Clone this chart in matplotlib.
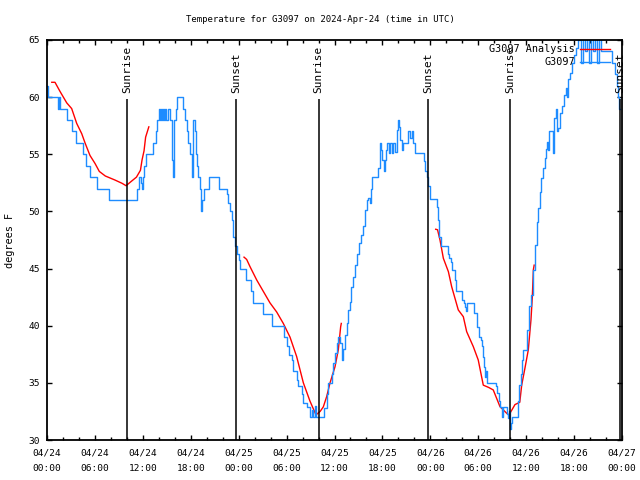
import numpy as np
import matplotlib
matplotlib.use("Agg")
import matplotlib.pyplot as plt
from matplotlib.ticker import MultipleLocator

plt.rcParams['font.family'] = ['DejaVu Sans Mono']

# hours since 04/24 00:00 UTC
obs_hours = [0, 0.125, 1.38, 1.5, 1.63, 2.47, 3.13, 3.63, 4.51, 4.88, 5.38, 6.26, 7.76,
             11.27, 11.52, 11.77, 11.9, 12.02, 12.15, 12.4, 13.27, 13.65, 13.77, 14.02,
             14.15, 14.28, 14.4, 14.53, 14.65, 14.78, 14.9, 15.15, 15.4, 15.59, 15.72,
             15.9, 16.15, 16.34, 17.09, 17.28, 17.53, 17.66, 17.91, 18.1, 18.28, 18.47,
             18.66, 18.78, 18.91, 19.1, 19.28, 19.41, 19.66, 20.29, 21.5, 22.5, 22.7,
             22.92, 23.13, 23.25, 23.33, 23.54, 23.83, 24.0, 24.17, 24.92, 25.55, 25.8,
             27.05, 28.17, 29.68, 30.05, 30.3, 30.68, 30.8, 31.3, 31.43, 31.93, 32.06,
             32.56, 32.93, 33.18, 33.31, 33.56, 33.68, 34.69, 35.06, 35.19, 35.69, 35.81,
             36.06, 36.31, 36.44, 36.69, 36.94, 37.07, 37.32, 37.57, 37.69, 37.94, 38.07,
             38.32, 38.57, 38.82, 39.07, 39.32, 39.57, 39.82, 40.07, 40.19, 40.44, 40.57,
             40.7, 41.45, 41.7, 41.83, 41.95, 42.2, 42.33, 42.45, 42.58, 42.83, 42.95,
             43.2, 43.33, 43.58, 43.83, 43.95, 44.08, 44.2, 44.45, 44.58, 45.2, 45.45,
             45.7, 45.83, 46.08, 47.2, 47.33, 47.58, 47.7, 47.96, 48.83, 48.96, 49.09,
             49.34, 50.21, 50.34, 50.59, 50.71, 51.09, 51.21, 51.96, 52.21, 52.34, 52.46,
             52.59, 53.46, 53.84, 54.09, 54.34, 54.46, 54.59, 54.71, 54.84, 54.97, 55.1,
             56.22, 56.35, 56.6, 56.72, 56.97, 57.1, 57.6, 57.72, 57.85, 57.97, 58.1,
             58.22, 58.97, 59.1, 59.35, 59.48, 59.6, 60.1, 60.36, 60.61, 60.86, 61.11,
             61.36, 61.48, 61.73, 61.86, 62.11, 62.36, 62.49, 62.61, 62.74, 62.86, 63.36,
             63.49, 63.74, 63.86, 63.99, 64.24, 64.49, 64.74, 64.99, 65.11, 65.24, 65.49,
             65.74, 65.99, 66.24, 66.49, 66.74, 66.87, 67.12, 67.37, 67.62, 67.87, 68.12,
             68.37, 68.62, 68.87, 69.12, 69.37, 70.75, 71.12, 71.37, 71.5, 71.62, 71.75]
obs_temps = [61, 60, 59, 60, 59, 58, 57, 56, 55, 54, 53, 52, 51,
             52, 53, 52.5, 52, 53, 54, 55, 56, 57, 58, 59,
             58, 59, 58, 59, 58, 59, 58, 59, 58, 54.5, 53,
             58, 59, 60, 59, 58, 57, 56, 55, 53, 58, 57,
             55, 54, 53, 52, 50, 51, 52, 53, 52, 51.5, 50.7,
             50, 49.25, 48.7, 47.8, 47, 46.3, 45.75, 45, 44, 43, 42,
             41, 40, 39, 38.2, 37.4, 37, 36, 35.25, 34.7, 34, 33.2,
             32.9, 32, 32.6, 32, 33, 32, 32.8, 34, 35, 35.8, 36.7,
             37.6, 38.5, 39, 38.5, 37, 38, 39.2, 40.2, 41.4, 42.1, 43.4,
             44.3, 45.3, 46.3, 47.2, 47.9, 48.7, 50.1, 51, 51.2, 50.7, 52,
             53, 53.8, 56, 55.4, 54.5, 53.5, 54.5, 55.4, 56, 55.1, 56,
             55.1, 56, 55.2, 57.1, 58, 57.4, 56.25, 55.4, 56, 57, 56.4,
             57, 56, 55.1, 54.4, 53.5, 53, 52.2, 51.1, 50.4, 49.25, 47.8,
             47, 46.3, 45.9, 45.6, 44.9, 44, 43, 42.25, 42, 41.6, 41.3,
             42, 41.1, 39.9, 39, 38.75, 38.2, 37.3, 36.4, 35.5, 36, 35,
             34.7, 34.1, 33.4, 32.9, 32, 32.9, 32.3, 31.9, 32.5, 31.0, 31.5,
             32, 33.4, 34.8, 35.8, 37, 37.9, 39.6, 41.7, 42.7, 44.9, 47.06,
             49.1, 50.3, 51.7, 52.9, 53.8, 54.65, 55.5, 56.1, 55.4, 57, 55.1,
             58.15, 59, 57, 57.3, 58.6, 59.2, 60.2, 60.8, 60, 61.6, 62.1,
             63, 63.7, 64.3, 65, 66, 63, 66, 64, 66, 63, 66,
             64, 66, 63, 65.5, 64, 63, 62, 61, 60, 59, 59]

ana1_hours = [0.6, 1.0, 1.63, 2.47, 3.09, 3.72, 4.35, 4.76, 5.38, 6.01, 6.55, 7.3, 8.5,
              9.4, 9.9, 10.5, 11.2, 11.7, 11.9, 12.15, 12.35, 12.75]
ana1_temps = [61.3, 61.3, 60.5, 59.5, 59.0, 57.7, 56.8, 56.0, 54.9, 54.2, 53.5, 53.1, 52.75,
              52.46, 52.25, 52.6, 53.0, 53.6, 54.5, 55.3, 56.5, 57.4]
ana2_hours = [24.67, 25.0, 25.42, 26.26, 27.09, 27.92, 28.76, 29.59, 30.43, 31.26, 32.1,
              32.93, 33.68, 34.2, 34.6, 35.02, 35.44, 36.06, 36.48, 36.77, 36.85]
ana2_temps = [46.0, 45.8, 45.17, 44.0, 43.0, 42.0, 41.2, 40.2, 39.0, 37.3, 35.0,
              33.4, 32.2, 32.5, 32.9, 33.8, 35.0, 36.4, 37.9, 39.9, 40.2]
ana3_hours = [48.67, 48.9, 49.21, 49.63, 50.26, 50.67, 51.5, 52.13, 52.55, 53.38, 54.0,
              54.63, 55.3, 55.88, 56.72, 57.56, 57.85, 58.6, 59.2, 59.44, 59.85, 60.27,
              60.6, 60.77, 60.9, 61.0]
ana3_temps = [48.44, 48.4, 47.5, 45.9, 44.73, 43.42, 41.38, 40.79, 39.48, 38.17, 37.0,
              34.8, 34.6, 34.38, 32.92, 32.34, 32.19, 33.1, 33.3, 34.8, 36.3, 37.9,
              40.5, 42.5, 44.9, 45.3]

sun_hours = [10.0, 23.67, 34.0, 47.7, 57.95, 71.73]
sun_names = ['Sunrise', 'Sunset', 'Sunrise', 'Sunset', 'Sunrise', 'Sunset']

tick_hours = list(range(0, 73, 6))
tick_labels = ['04/24\n00:00', '04/24\n06:00', '04/24\n12:00', '04/24\n18:00',
               '04/25\n00:00', '04/25\n06:00', '04/25\n12:00', '04/25\n18:00',
               '04/26\n00:00', '04/26\n06:00', '04/26\n12:00', '04/26\n18:00',
               '04/27\n00:00']

fig = plt.figure(figsize=(6.4, 4.8), dpi=100)
ax = fig.add_axes([47/640, 40/480, 575/640, 400/480])

red = '#ff0000'
blue = '#1e8cff'

# analysis first, observations on top
for h, t in [(ana1_hours, ana1_temps), (ana2_hours, ana2_temps), (ana3_hours, ana3_temps)]:
    ax.plot(h, t, color=red, lw=1.0)
ax.plot(obs_hours, obs_temps, color=blue, lw=1.0, drawstyle='steps-post')

ax.vlines(sun_hours, 30, 59.85, color='black', lw=1.1)
for h, name in zip(sun_hours, sun_names):
    ax.text(h, 60.4, name, rotation=90, ha='center', va='bottom', fontsize=8)

ax.set_xlim(0, 72)
ax.set_ylim(30, 65)
ax.set_xticks(tick_hours)
ax.set_xticklabels(tick_labels, fontsize=6.8, linespacing=2.0)
ax.xaxis.set_minor_locator(MultipleLocator(2))
ax.set_yticks(range(30, 66, 5))
ax.tick_params(axis='y', labelsize=6.8)
ax.tick_params(which='major', direction='in', length=3.6, width=1, top=True, right=True, pad=5)
ax.tick_params(axis='x', which='major', pad=6)
ax.tick_params(which='minor', direction='in', length=2.2, width=1, top=True, right=False)
ax.tick_params(axis='y', which='minor', left=False, right=False)
for s in ax.spines.values():
    s.set_linewidth(1.3)

# key in the top right corner, text right-aligned, sample to its right
ax.text(0.918, 0.9775, 'G3097 Analysis', transform=ax.transAxes, ha='right', va='center', fontsize=7.3)
ax.plot([0.927, 0.979], [0.9775, 0.9775], transform=ax.transAxes, color=red, lw=1.0)
ax.text(0.918, 0.945, 'G3097', transform=ax.transAxes, ha='right', va='center', fontsize=7.3)
ax.plot([0.927, 0.979], [0.945, 0.945], transform=ax.transAxes, color=blue, lw=1.0)

fig.text(0.5, 1 - 20/480, 'Temperature for G3097 on 2024-Apr-24 (time in UTC)',
         ha='center', va='center', fontsize=6.5)
fig.text(10/640, 0.5, 'degrees F', rotation=90, ha='center', va='center', fontsize=7.4)

fig.savefig('out.png', dpi=100)
